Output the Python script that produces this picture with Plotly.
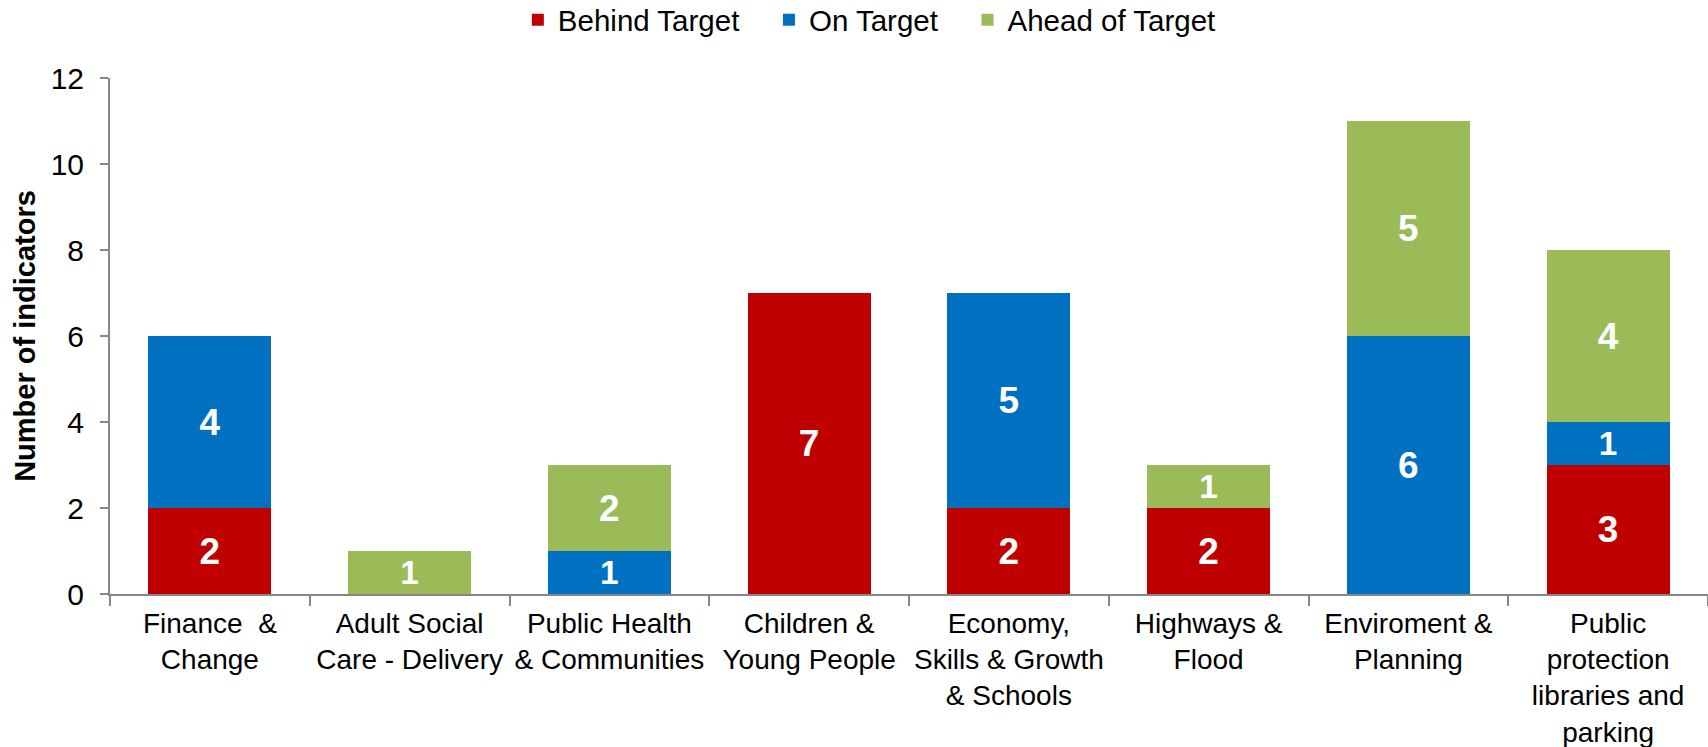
import plotly.graph_objects as go

categories = [
    "Finance  &<br>Change",
    "Adult Social<br>Care - Delivery",
    "Public Health<br>& Communities",
    "Children &<br>Young People",
    "Economy,<br>Skills & Growth<br>& Schools",
    "Highways &<br>Flood",
    "Enviroment &<br>Planning",
    "Public<br>protection<br>libraries and<br>parking",
]
behind = [2, 0, 0, 7, 2, 2, 0, 3]
on_target = [4, 0, 1, 0, 5, 0, 6, 1]
ahead = [0, 1, 2, 0, 0, 1, 5, 4]
y_ticks = [0, 2, 4, 6, 8, 10, 12]

series = [
    ("Behind Target", behind, "#C00000"),
    ("On Target", on_target, "#0070C0"),
    ("Ahead of Target", ahead, "#9BBB59"),
]

FONT = "Liberation Sans, Arial, sans-serif"
AXIS_COL = "#878787"
PAD = "\u00a0" * 3

fig = go.Figure()
for name, vals, col in series:
    fig.add_trace(go.Bar(
        name=name + PAD,
        x=categories,
        y=vals,
        marker=dict(color=col, line=dict(width=0)),
        text=[str(v) if v else "" for v in vals],
        textposition="inside",
        insidetextanchor="middle",
        textangle=0,
        textfont=dict(family=FONT, size=37, color="white", weight="bold"),
        hoverinfo="skip",
    ))

fig.update_layout(
    barmode="stack",
    bargap=0.385,
    width=1708,
    height=747,
    margin=dict(l=110, r=0, t=78, b=153),
    paper_bgcolor="white",
    plot_bgcolor="white",
    font=dict(family=FONT, size=28, color="black"),
    legend=dict(
        orientation="h",
        traceorder="normal",
        x=0.483, xanchor="center", xref="paper",
        y=0.973, yanchor="middle", yref="container",
        font=dict(family=FONT, size=29.5, color="black"),
        bgcolor="rgba(0,0,0,0)",
    ),
    xaxis=dict(
        type="category",
        showline=True,
        linecolor=AXIS_COL,
        linewidth=2,
        ticks="outside",
        tickson="boundaries",
        ticklen=10,
        tickwidth=2,
        tickcolor=AXIS_COL,
        tickangle=0,
        ticklabelstandoff=3,
        tickfont=dict(family=FONT, size=28, color="black"),
        showgrid=False,
        zeroline=False,
    ),
    yaxis=dict(
        range=[0, 12],
        tickvals=y_ticks,
        showline=True,
        linecolor=AXIS_COL,
        linewidth=2,
        ticks="outside",
        ticklen=8,
        tickwidth=2,
        tickcolor=AXIS_COL,
        ticklabelstandoff=10,
        tickfont=dict(family=FONT, size=30, color="black"),
        showgrid=False,
        zeroline=False,
        title=dict(
            text="Number of indicators",
            font=dict(family=FONT, size=29, color="black", weight="bold"),
            standoff=6,
        ),
    ),
)

fig.write_html(
    "out.html",
    config={"displayModeBar": False},
    post_script="document.body.style.margin='0px';",
)
